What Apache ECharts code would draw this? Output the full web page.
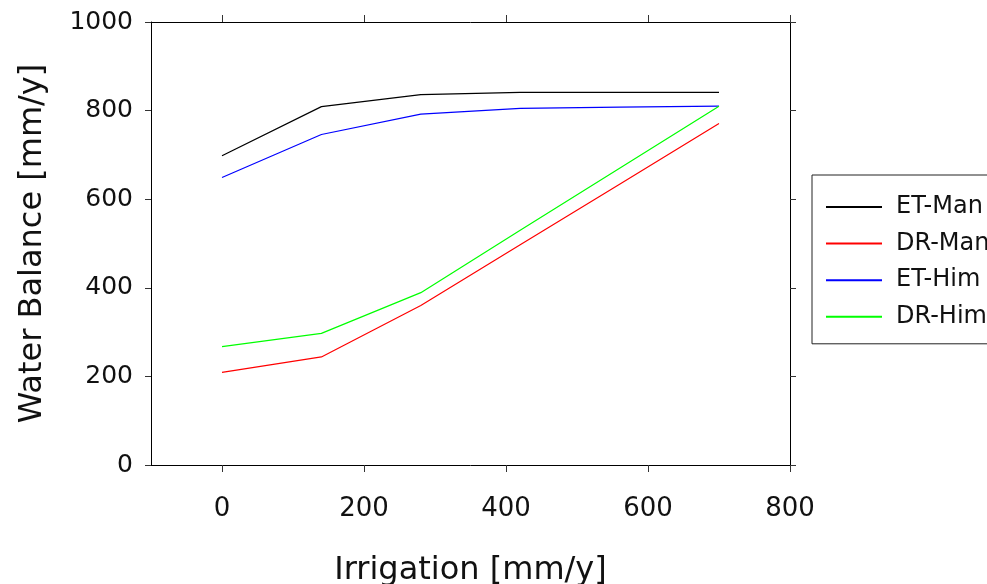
<!DOCTYPE html>
<html>
<head>
<meta charset="utf-8">
<script src="https://cdn.jsdelivr.net/npm/echarts@6/dist/echarts.min.js"></script>
<style>
html,body{margin:0;padding:0;background:#fff;}
#chart{width:987px;height:584px;}
</style>
</head>
<body>
<div id="chart"></div>
<script>
var irrigation = [0, 140, 280, 420, 560, 700];
var etMan = [698, 809, 836, 841, 841, 841];
var drMan = [209, 244, 360, 497, 634, 771];
var etHim = [649, 746, 792, 805, 808, 810];
var drHim = [267, 297, 389, 530, 670, 810];
var seriesNames = ['ET-Man', 'DR-Man', 'ET-Him', 'DR-Him'];
var seriesColors = ['#000000', '#ff0000', '#0000ff', '#00ff00'];
var xTicks = [0, 200, 400, 600, 800];

var FONT = 'DejaVu Sans';
function pairs(ys) { return irrigation.map(function (x, i) { return [x, ys[i]]; }); }
var allValues = [etMan, drMan, etHim, drHim];

var chart = echarts.init(document.getElementById('chart'), null, {renderer: 'canvas'});
var axisLineStyle = {color: '#000', width: 1};
var tickStyle = {color: '#333', width: 1};
chart.setOption({
  animation: false,
  backgroundColor: '#fff',
  grid: {left: 151, right: 197, top: 22, bottom: 119, containLabel: false, outerBoundsMode: 'none'},
  legend: {
    orient: 'vertical',
    left: 812, top: 175,
    data: seriesNames,
    itemWidth: 56, itemHeight: 24, itemGap: 12.6,
    padding: [20, 30, 15, 13],
    borderColor: '#222', borderWidth: 1,
    backgroundColor: '#fff',
    itemStyle: {opacity: 0},
    textStyle: {fontFamily: FONT, fontSize: 24, color: '#111', padding: [0, 0, 0, 9]}
  },
  xAxis: [{
    type: 'value', min: -100, max: 800, position: 'bottom',
    name: 'Irrigation [mm/y]', nameLocation: 'middle', nameGap: 90,
    nameTextStyle: {fontFamily: FONT, fontSize: 32, color: '#111'},
    axisLine: {show: true, onZero: false, lineStyle: axisLineStyle},
    axisTick: {show: true, length: 7, lineStyle: tickStyle, customValues: xTicks},
    axisLabel: {fontFamily: FONT, fontSize: 26, color: '#111', margin: 31, customValues: xTicks},
    splitLine: {show: false}
  }, {
    type: 'value', min: -100, max: 800, position: 'top',
    axisLine: {show: true, onZero: false, lineStyle: axisLineStyle},
    axisTick: {show: true, length: 7, lineStyle: tickStyle, customValues: xTicks},
    axisLabel: {show: false},
    splitLine: {show: false}
  }],
  yAxis: [{
    type: 'value', min: 0, max: 1000, interval: 200, position: 'left',
    name: 'Water Balance [mm/y]', nameLocation: 'middle', nameGap: 102,
    nameTextStyle: {fontFamily: FONT, fontSize: 32, color: '#111'},
    axisLine: {show: true, onZero: false, lineStyle: axisLineStyle},
    axisTick: {show: true, length: 6, lineStyle: tickStyle},
    axisLabel: {fontFamily: FONT, fontSize: 25, color: '#111', margin: 18, padding: [4, 0, 0, 0],
      formatter: function (v) { return String(v); }},
    splitLine: {show: false}
  }, {
    type: 'value', min: 0, max: 1000, interval: 200, position: 'right',
    axisLine: {show: true, onZero: false, lineStyle: axisLineStyle},
    axisTick: {show: true, length: 6, lineStyle: tickStyle},
    axisLabel: {show: false},
    splitLine: {show: false}
  }],
  series: seriesNames.map(function (n, i) {
    return {
      name: n, type: 'line', xAxisIndex: 0, yAxisIndex: 0,
      data: pairs(allValues[i]),
      symbol: 'none', showSymbol: false,
      lineStyle: {color: seriesColors[i], width: 1.2},
      itemStyle: {color: seriesColors[i]}
    };
  })
});
</script>
</body>
</html>
